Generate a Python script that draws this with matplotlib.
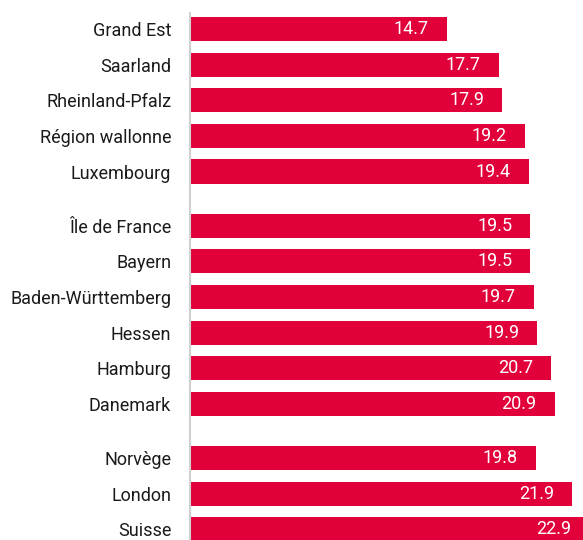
import numpy as np
import matplotlib
matplotlib.use("Agg")
import matplotlib.pyplot as plt

# data, grouped as in the original chart
group_names = [
    ["Grand Est", "Saarland", "Rheinland-Pfalz", "Région wallonne", "Luxembourg"],
    ["Île de France", "Bayern", "Baden-Württemberg", "Hessen", "Hamburg", "Danemark"],
    ["Norvège", "London", "Suisse"],
]
group_values = [
    [14.7, 17.7, 17.9, 19.2, 19.4],
    [19.5, 19.5, 19.7, 19.9, 20.7, 20.9],
    [19.8, 21.9, 22.9],
]

BAR_COLOR = "#E2003B"
GROUP_GAP = 0.52

plt.rcParams['font.family'] = ['Roboto', 'DejaVu Sans']

# positions with an extra gap between groups
labels, values, ypos = [], [], []
i = 0
for g, (names, vals) in enumerate(zip(group_names, group_values)):
    for n, v in zip(names, vals):
        labels.append(n)
        values.append(v)
        ypos.append(i + g * GROUP_GAP)
        i += 1
ypos = np.array(ypos)

fig = plt.figure(figsize=(5.83, 5.40), dpi=100)
ax = fig.add_axes([190 / 583, 0.0, 1 - 190 / 583, (540 - 13) / 540])

ax.barh(ypos, values, height=0.68, color=BAR_COLOR, edgecolor="none")

for y, v in zip(ypos, values):
    ax.annotate(f"{v:.1f}", xy=(v, y), xytext=(-13, 0), textcoords="offset points",
                ha="right", va="center", color="white", fontsize=13,
                annotation_clip=False)

ax.set_yticks(ypos)
ax.set_yticklabels(labels, fontsize=13, color="#1a1a1a")
ax.tick_params(axis="y", length=0, pad=13.5)
ax.set_xticks([])
ax.set_xlim(0, 22.52)
ax.set_ylim(ypos[-1] + 0.3, -0.45)

for side in ["top", "right", "bottom"]:
    ax.spines[side].set_visible(False)
ax.spines["left"].set_color("#d0d0d0")
ax.spines["left"].set_linewidth(1.5)

fig.savefig("out.png", dpi=100)
